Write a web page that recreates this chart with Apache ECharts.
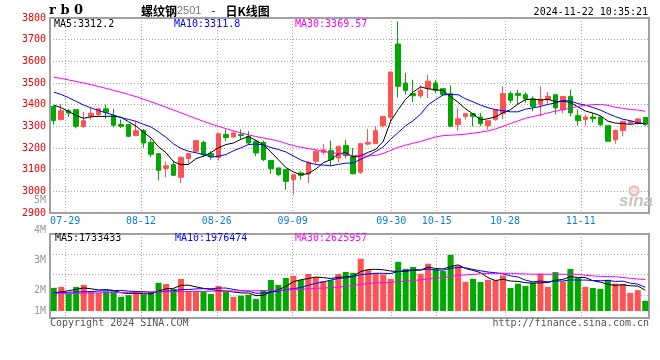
<!DOCTYPE html>
<html><head><meta charset="utf-8">
<script src="https://cdn.jsdelivr.net/npm/echarts@6/dist/echarts.min.js"></script>
<style>html,body{margin:0;padding:0;background:#fff}#c{width:660px;height:360px}</style>
</head><body><div id="c"></div>
<script>
// ---- data ----
const dates = ['07-25','07-26','07-29','07-30','07-31','08-01','08-02','08-05','08-06','08-07','08-08','08-09','08-12','08-13','08-14','08-15','08-16','08-19','08-20','08-21','08-22','08-23','08-26','08-27','08-28','08-29','08-30','09-02','09-03','09-04','09-05','09-06','09-09','09-10','09-11','09-12','09-13','09-18','09-19','09-20','09-23','09-24','09-25','09-26','09-27','09-30','10-08','10-09','10-10','10-11','10-14','10-15','10-16','10-17','10-18','10-21','10-22','10-23','10-24','10-25','10-28','10-29','10-30','10-31','11-01','11-04','11-05','11-06','11-07','11-08','11-11','11-12','11-13','11-14','11-15','11-18','11-19','11-20','11-21','11-22'];
const dateLabels = ['07-29','08-12','08-26','09-09','09-30','10-15','10-28','11-11'];

const opens = [3392,3331,3372,3377,3300,3346,3354,3381,3349,3308,
3308,3258,3281,3226,3174,3106,3123,3065,3151,3185,
3226,3174,3156,3262,3251,3262,3254,3231,3226,3142,
3108,3100,3054,3085,3080,3139,3180,3188,3154,3211,
3161,3088,3218,3220,3303,3342,3680,3500,3451,3441,
3474,3500,3474,3451,3308,3346,3358,3343,3303,3331,
3360,3451,3451,3446,3426,3400,3423,3446,3377,3438,
3349,3331,3343,3343,3303,3238,3281,3315,3315,3341];
const closes = [3327,3372,3361,3300,3326,3360,3381,3365,3305,3300,
3254,3280,3223,3171,3097,3118,3074,3157,3174,3234,
3169,3160,3266,3249,3269,3258,3223,3177,3146,3105,
3077,3046,3077,3074,3134,3185,3192,3146,3208,3165,
3081,3220,3226,3280,3345,3551,3485,3466,3441,3466,
3508,3465,3446,3300,3335,3358,3346,3312,3326,3377,
3451,3420,3443,3426,3392,3426,3438,3385,3438,3362,
3326,3343,3335,3308,3231,3281,3323,3323,3334,3308];
const lows = [3308,3327,3343,3291,3292,3331,3346,3334,3295,3292,
3251,3254,3203,3157,3051,3065,3072,3039,3128,3177,
3158,3146,3142,3231,3246,3238,3215,3162,3139,3082,
3069,3008,2985,3054,3039,3128,3169,3118,3134,3154,
3078,3081,3212,3218,3295,3323,3434,3446,3412,3431,
3431,3454,3443,3300,3280,3331,3300,3300,3285,3326,
3333,3408,3403,3408,3369,3346,3405,3354,3361,3346,
3303,3303,3318,3300,3231,3220,3254,3312,3308,3303];
const highs = [3395,3404,3380,3380,3366,3385,3385,3400,3380,3331,
3310,3323,3288,3241,3177,3138,3141,3161,3177,3238,
3234,3185,3267,3285,3277,3285,3277,3238,3234,3142,
3108,3103,3077,3092,3139,3192,3218,3234,3208,3238,
3200,3223,3288,3300,3349,3551,3785,3546,3515,3489,
3538,3515,3474,3489,3384,3358,3361,3361,3326,3380,
3485,3462,3469,3457,3438,3485,3458,3446,3438,3469,
3377,3354,3361,3346,3303,3285,3323,3327,3338,3343];

const ma5 = [3398,3386,3368,3350,3337,3344,3346,3346,3347,3342,
3321,3301,3272,3246,3205,3178,3137,3123,3124,3151,
3162,3179,3201,3216,3223,3240,3253,3235,3215,3182,
3146,3110,3090,3076,3082,3103,3132,3146,3173,3179,
3158,3164,3180,3194,3230,3324,3377,3425,3458,3482,
3473,3469,3465,3437,3411,3381,3357,3330,3335,3344,
3362,3377,3403,3423,3426,3421,3425,3414,3416,3410,
3390,3371,3361,3349,3324,3315,3313,3309,3314,3312.2];
const ma10 = [3458,3447,3432,3415,3398,3385,3373,3362,3352,3340,
3332,3323,3309,3297,3274,3249,3219,3198,3185,3178,
3170,3158,3162,3170,3187,3201,3216,3218,3215,3202,
3193,3182,3163,3145,3132,3124,3121,3118,3124,3130,
3131,3148,3163,3184,3205,3241,3271,3303,3326,3356,
3399,3423,3445,3447,3446,3427,3413,3398,3386,3377,
3372,3367,3367,3379,3385,3392,3401,3408,3419,3417,
3405,3398,3387,3375,3359,3345,3333,3326,3317,3311.8];
const ma30 = [3527,3521,3514,3507,3500,3492,3484,3475,3466,3457,
3447,3437,3425,3413,3401,3388,3375,3362,3349,3336,
3323,3311,3300,3289,3279,3270,3261,3253,3246,3240,
3232,3221,3211,3204,3197,3192,3185,3178,3175,3170,
3165,3163,3163,3166,3175,3189,3203,3213,3222,3230,
3241,3251,3257,3259,3261,3264,3268,3273,3279,3288,
3300,3313,3325,3337,3345,3353,3362,3370,3377,3384,
3392,3396,3400,3401,3397,3388,3383,3378,3375,3369.57];

// volume in millions of lots
const volumesM = [1.93,2.01,1.47,2.01,2.18,1.60,1.51,1.63,1.65,1.18,
1.32,1.65,1.39,1.60,2.35,2.25,1.85,2.67,1.65,1.63,
1.63,1.42,2.08,1.60,1.18,1.28,1.35,1.00,1.75,2.58,
2.18,2.75,2.93,2.58,3.08,2.82,2.50,2.56,3.08,3.25,
3.18,4.35,3.43,3.17,3.05,2.67,4.10,3.51,3.67,3.10,
3.94,3.49,3.33,4.68,3.78,2.43,2.68,2.42,2.60,2.57,
2.96,1.92,2.28,2.08,2.36,3.10,2.01,3.24,2.46,3.51,
2.75,2.01,1.92,1.85,2.60,2.29,2.26,1.51,1.74,0.85];
const volMa5 = [1.50,1.60,1.70,1.80,1.920,1.854,1.754,1.786,1.714,1.514,
1.458,1.486,1.438,1.428,1.662,1.848,1.888,2.144,2.154,2.010,
1.886,1.800,1.682,1.672,1.582,1.512,1.498,1.282,1.312,1.592,
1.772,2.052,2.438,2.604,2.704,2.832,2.782,2.708,2.808,2.842,
2.914,3.284,3.458,3.476,3.436,3.334,3.284,3.300,3.400,3.410,
3.664,3.542,3.506,3.708,3.844,3.542,3.380,3.198,2.782,2.540,
2.646,2.494,2.466,2.362,2.320,2.348,2.366,2.558,2.634,2.864,
2.794,2.794,2.530,2.408,2.226,2.134,2.184,2.102,2.080,1.733];
const volMa10 = [1.52,1.54,1.56,1.58,1.60,1.63,1.66,1.68,1.70,1.717,
1.656,1.620,1.612,1.571,1.588,1.653,1.687,1.791,1.791,1.836,
1.867,1.844,1.913,1.913,1.796,1.699,1.649,1.482,1.492,1.587,
1.642,1.775,1.860,1.958,2.148,2.302,2.417,2.573,2.706,2.773,
2.873,3.033,3.083,3.142,3.139,3.124,3.284,3.379,3.438,3.423,
3.499,3.413,3.403,3.554,3.627,3.603,3.461,3.352,3.245,3.192,
3.094,2.937,2.832,2.572,2.430,2.497,2.430,2.512,2.498,2.592,
2.571,2.580,2.544,2.521,2.545,2.464,2.489,2.316,2.244,1.976];
const volMa30 = [1.45,1.46,1.47,1.48,1.49,1.50,1.51,1.52,1.53,1.54,
1.55,1.56,1.57,1.58,1.59,1.60,1.61,1.62,1.62,1.63,
1.64,1.65,1.65,1.66,1.67,1.68,1.68,1.69,1.70,1.713,
1.722,1.746,1.795,1.814,1.844,1.885,1.918,1.949,1.996,2.065,
2.127,2.217,2.285,2.338,2.361,2.375,2.450,2.478,2.545,2.594,
2.671,2.740,2.782,2.885,2.971,3.010,3.054,3.101,3.130,3.129,
3.155,3.128,3.106,3.089,3.065,3.075,3.058,3.081,3.060,3.069,
3.055,2.977,2.926,2.882,2.867,2.855,2.793,2.727,2.662,2.626];

const priceMin = 2900, priceMax = 3800, priceStep = 100;
const volTickLabels = ['1M','2M','3M','4M','5M'];

const titleCode = 'r b 0';
const titleName = '螺纹钢', titleNum = '2501', titleTail = '日K线图';
const stamp = '2024-11-22 10:35:21';
const priceLegend = ['MA5:3312.2','MA10:3311.8','MA30:3369.57'];
const volLegend = ['MA5:1733433','MA10:1976474','MA30:2625957'];
const copyright = 'Copyright 2024 SINA.COM';
const siteUrl = 'http://finance.sina.com.cn';

// ---- chart ----
const RED = '#ff5252', GREEN = '#00a800';
const MONO = '"DejaVu Sans Mono", monospace';
const ohlc = opens.map((o, i) => [o, closes[i], lows[i], highs[i]]);
const volBars = volumesM.map((v, i) => ({value: v, itemStyle: {color: closes[i] >= opens[i] ? RED : GREEN}}));
const isLabelDate = (idx, val) => dateLabels.indexOf(val) >= 0;
const dotted = {color: '#a8a8a8', width: 1, type: [1, 2]};
const volSlots = [0, 20, 50, 80, 110];
const volLabelFor = v => { const k = volSlots.indexOf(Math.round(v)); return k >= 0 ? volTickLabels[k] : ''; };

const chart = echarts.init(document.getElementById('c'), null, {renderer: 'canvas'});
const hiddenCat = (g) => ({type: 'category', gridIndex: g, data: dates, boundaryGap: true, position: 'bottom',
  axisLine: {show: false}, axisTick: {show: false}, axisLabel: {show: false}, splitLine: {show: false}});
const gridCat = (g, showLabel) => ({type: 'category', gridIndex: g, data: dates, boundaryGap: false, position: 'bottom',
  axisLine: {show: false}, axisTick: {show: false},
  axisLabel: {show: showLabel, interval: isLabelDate, color: '#0a7fd6', fontFamily: MONO, fontSize: 10, margin: 3},
  splitLine: {show: true, interval: isLabelDate, lineStyle: dotted}});

chart.setOption({
  animation: false,
  backgroundColor: '#ffffff',
  grid: [
    {left: 50, top: 18, width: 599, height: 195, show: true, borderColor: '#a0a0a0', borderWidth: 2, outerBoundsMode: 'none'},
    {left: 50, top: 234, width: 599, height: 84, show: true, borderColor: '#a0a0a0', borderWidth: 2, outerBoundsMode: 'none'},
    {left: 50, top: 234, width: 599, height: 61, show: false, outerBoundsMode: 'none'},
    {left: 50, top: 200, width: 599, height: 111, show: false, outerBoundsMode: 'none'}
  ],
  xAxis: [
    hiddenCat(0), gridCat(0, true), hiddenCat(1), gridCat(1, false),
    {type: 'value', gridIndex: 2, show: false},
    {type: 'value', gridIndex: 3, show: false}
  ],
  yAxis: [
    {type: 'value', gridIndex: 0, min: priceMin, max: priceMax, interval: priceStep,
      axisLine: {show: false}, axisTick: {show: false},
      axisLabel: {formatter: v => String(v), color: '#f00000', fontFamily: MONO, fontSize: 10, margin: 4, padding: [0, 0, 3, 0]},
      splitLine: {show: true, lineStyle: dotted}},
    {type: 'value', gridIndex: 1, min: -7 / 12, max: 77 / 12,
      axisLine: {show: false}, axisTick: {show: false}, axisLabel: {show: false}, splitLine: {show: false}},
    {type: 'value', gridIndex: 2, min: 0, max: 3, interval: 1,
      axisLine: {show: false}, axisTick: {show: false}, axisLabel: {show: false},
      splitLine: {show: true, lineStyle: dotted}},
    {type: 'value', gridIndex: 3, min: 0, max: 110, interval: 10,
      axisLine: {show: false}, axisTick: {show: false}, splitLine: {show: false},
      axisLabel: {formatter: volLabelFor, color: '#999', fontFamily: MONO, fontSize: 10, margin: 4, showMinLabel: true, showMaxLabel: true}}
  ],
  series: [
    {type: 'candlestick', xAxisIndex: 0, yAxisIndex: 0, data: ohlc, barWidth: 5,
      itemStyle: {color: RED, color0: GREEN, borderColor: RED, borderColor0: GREEN, borderWidth: 1}},
    {type: 'line', xAxisIndex: 0, yAxisIndex: 0, data: ma5, symbol: 'none', silent: true, lineStyle: {color: '#000', width: 1}},
    {type: 'line', xAxisIndex: 0, yAxisIndex: 0, data: ma10, symbol: 'none', silent: true, lineStyle: {color: '#0000ff', width: 1}},
    {type: 'line', xAxisIndex: 0, yAxisIndex: 0, data: ma30, symbol: 'none', silent: true, lineStyle: {color: '#ff00ff', width: 1}},
    {type: 'bar', xAxisIndex: 2, yAxisIndex: 1, data: volBars, barWidth: 6},
    {type: 'line', xAxisIndex: 2, yAxisIndex: 1, data: volMa5, symbol: 'none', silent: true, lineStyle: {color: '#000', width: 1}},
    {type: 'line', xAxisIndex: 2, yAxisIndex: 1, data: volMa10, symbol: 'none', silent: true, lineStyle: {color: '#0000ff', width: 1}},
    {type: 'line', xAxisIndex: 2, yAxisIndex: 1, data: volMa30, symbol: 'none', silent: true, lineStyle: {color: '#ff00ff', width: 1}}
  ],
  graphic: [
    {type: 'text', x: 49, y: 11, style: {text: titleCode, fontFamily: '"DejaVu Serif"', fontWeight: 'bold', fontSize: 13, fill: '#000', verticalAlign: 'middle'}},
    {type: 'text', x: 141, y: 11, style: {
      text: '{a|' + titleName + '}{b|' + titleNum + '}{c|-}{a|' + titleTail + '}', verticalAlign: 'middle',
      rich: {
        a: {fontFamily: '"Noto Sans CJK SC"', fontWeight: 'bold', fontSize: 12, fill: '#000'},
        b: {fontFamily: '"Liberation Sans"', fontSize: 11, fill: '#777'},
        c: {fontFamily: MONO, fontSize: 10, fill: '#000', width: 24, align: 'center'}
      }}},
    {type: 'text', x: 648, y: 12, style: {text: stamp, fontFamily: MONO, fontSize: 10, fill: '#000', align: 'right', verticalAlign: 'middle'}},
    {type: 'text', x: 54, y: 24, style: {text: priceLegend[0], fontFamily: MONO, fontSize: 10, fill: '#000', verticalAlign: 'middle'}},
    {type: 'text', x: 174, y: 24, style: {text: priceLegend[1], fontFamily: MONO, fontSize: 10, fill: '#0000ff', verticalAlign: 'middle'}},
    {type: 'text', x: 295, y: 24, style: {text: priceLegend[2], fontFamily: MONO, fontSize: 10, fill: '#ff00ff', verticalAlign: 'middle'}},
    {type: 'text', x: 55, y: 238.5, style: {text: volLegend[0], fontFamily: MONO, fontSize: 10, fill: '#000', verticalAlign: 'middle'}},
    {type: 'text', x: 175, y: 238.5, style: {text: volLegend[1], fontFamily: MONO, fontSize: 10, fill: '#0000ff', verticalAlign: 'middle'}},
    {type: 'text', x: 295, y: 238.5, style: {text: volLegend[2], fontFamily: MONO, fontSize: 10, fill: '#ff00ff', verticalAlign: 'middle'}},
    {type: 'text', x: 50, y: 323.5, style: {text: copyright, fontFamily: MONO, fontSize: 10, fill: '#555', verticalAlign: 'middle'}},
    {type: 'text', x: 649, y: 323.5, style: {text: siteUrl, fontFamily: MONO, fontSize: 10, fill: '#555', align: 'right', verticalAlign: 'middle'}},
    {type: 'circle', shape: {cx: 634, cy: 191, r: 4.5}, style: {fill: 'rgba(220,220,220,0.6)', stroke: '#f2b4a8', lineWidth: 2}, z: 10},
    {type: 'text', x: 619, y: 201, style: {text: 'sina', fontFamily: '"Liberation Sans"', fontStyle: 'italic', fontWeight: 'bold', fontSize: 17, fill: '#c4c4c4', verticalAlign: 'middle'}, z: 10}
  ]
});
</script>
</body></html>
